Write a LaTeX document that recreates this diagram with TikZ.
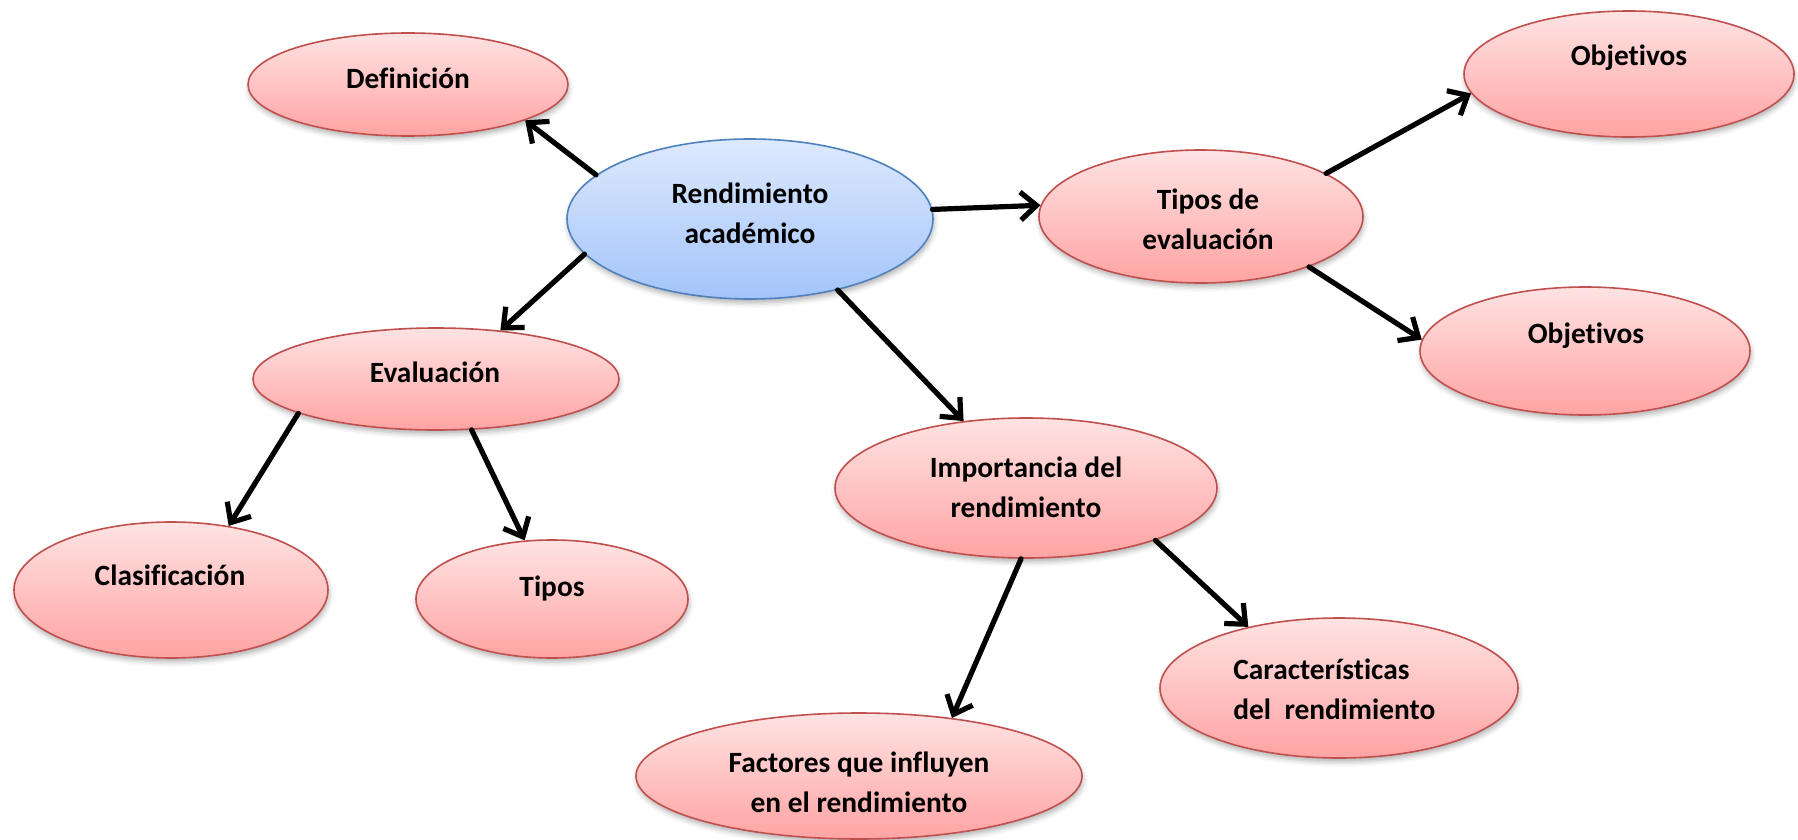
\documentclass[tikz,border=0pt]{standalone}
\usepackage{fontspec}
\setmainfont{Carlito}[Ligatures={NoCommon,NoContextual},Contextuals=NoAlternate]
\usetikzlibrary{arrows.meta,shapes.geometric,shadows.blur}
\definecolor{redTop}{HTML}{FFE3E3}
\definecolor{redBot}{HTML}{FFA3A3}
\definecolor{redLine}{HTML}{C0504D}
\definecolor{blueTop}{HTML}{DDE9FD}
\definecolor{blueBot}{HTML}{A3C4FA}
\definecolor{blueLine}{HTML}{4F81BD}
\begin{document}
\begin{tikzpicture}[x=0.5pt,y=-0.5pt,
  bub/.style={ellipse, inner sep=0pt, line width=0.8pt, draw=redLine,
    top color=redTop, bottom color=redBot,
    blur shadow={shadow xshift=0.5pt, shadow yshift=-2pt, shadow blur radius=2.5pt, shadow opacity=30}},
  bluebub/.style={bub, draw=blueLine, top color=blueTop, bottom color=blueBot},
  lbl/.style={font=\fontsize{14.7}{20}\selectfont\bfseries, align=center, inner sep=0pt},
  conn/.style={line width=2.6pt, line cap=round, -{Straight Barb[length=8pt,width=14pt,line width=2.6pt]}}]
\useasboundingbox (0,0) rectangle (1798,840);

% ellipses
\node[bluebub, minimum width=183pt, minimum height=80pt] (rend) at (750,219) {};
\node[bub, minimum width=160pt, minimum height=51.5pt] (def) at (408,84.5) {};
\node[bub, minimum width=183pt, minimum height=51pt] (eval) at (436,379) {};
\node[bub, minimum width=157pt, minimum height=68pt] (clas) at (171,590) {};
\node[bub, minimum width=136pt, minimum height=59pt] (tipos) at (552,599) {};
\node[bub, minimum width=162pt, minimum height=66.5pt] (tde) at (1201,216.5) {};
\node[bub, minimum width=165pt, minimum height=63pt] (obja) at (1629,74) {};
\node[bub, minimum width=165pt, minimum height=64pt] (objb) at (1585,351) {};
\node[bub, minimum width=191pt, minimum height=70pt] (imp) at (1026,488) {};
\node[bub, minimum width=223pt, minimum height=63pt] (fac) at (859,776) {};
\node[bub, minimum width=179pt, minimum height=70pt] (car) at (1339,688) {};

% labels
\node[lbl] (trend) at (750,213) {Rendimiento\\académico};
\node[lbl] (tdef) at (408,78) {Definición};
\node[lbl] (teval) at (435,372) {Evaluación};
\node[lbl] (tclas) at (170,575) {Clasificación};
\node[lbl] (ttipos) at (552,588) {Tipos};
\node[lbl] (ttde) at (1208,219.5) {Tipos de\\evaluación};
\node[lbl] (tobja) at (1629,58) {Objetivos};
\node[lbl] (tobjb) at (1586,336) {Objetivos};
\node[lbl] (timp) at (1026,487) {Importancia del\\rendimiento};
\node[lbl] (tfac) at (859,782) {Factores que influyen\\en el rendimiento};
\node[lbl, align=left, anchor=west] (tcar) at (1233,689.5) {Características\\del\ \ rendimiento};

% connectors
\draw[conn] (rend.164.4) -- (def.-17);
\draw[conn] (rend.192.7) -- (eval.37);
\draw[conn] (rend.3.8) -- (tde.176.5);
\draw[conn] (rend.-39.6) -- (imp.133.5);
\draw[conn] (tde.19.9) -- (obja.187.5);
\draw[conn] (tde.-25.5) -- (objb.176.2);
\draw[conn] (eval.194.6) -- (clas.48.3);
\draw[conn] (eval.-55.5) -- (tipos.115.8);
\draw[conn] (imp.-94) -- (fac.32.2);
\draw[conn] (imp.-22.3) -- (car.146.7);
\end{tikzpicture}
\end{document}
